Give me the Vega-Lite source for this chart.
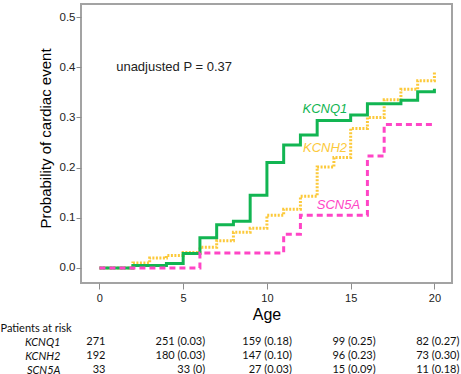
{
  "$schema": "https://vega.github.io/schema/vega-lite/v6.json",
  "padding": {"left": 0, "top": 3, "right": 0, "bottom": 0},
  "background": "white",
  "bounds": "flush",
  "spacing": 52,
  "config": {
    "font": "Liberation Sans",
    "view": {"stroke": "#a3a3a3", "strokeWidth": 2},
    "axis": {"domain": false, "grid": false, "tickColor": "#8c8c8c", "labelColor": "#222222", "titleColor": "#000000", "labelFont": "Liberation Sans", "titleFont": "Liberation Sans", "titleFontWeight": "normal"}
  },
  "datasets": {
    "curves": [
      {"gene": "KCNH2", "age": 0, "p": 0},
      {"gene": "KCNH2", "age": 2, "p": 0.01},
      {"gene": "KCNH2", "age": 3, "p": 0.02},
      {"gene": "KCNH2", "age": 4, "p": 0.025},
      {"gene": "KCNH2", "age": 5, "p": 0.031},
      {"gene": "KCNH2", "age": 6, "p": 0.041},
      {"gene": "KCNH2", "age": 7, "p": 0.054},
      {"gene": "KCNH2", "age": 8, "p": 0.071},
      {"gene": "KCNH2", "age": 9, "p": 0.079},
      {"gene": "KCNH2", "age": 10, "p": 0.105},
      {"gene": "KCNH2", "age": 11, "p": 0.117},
      {"gene": "KCNH2", "age": 12, "p": 0.143},
      {"gene": "KCNH2", "age": 13, "p": 0.201},
      {"gene": "KCNH2", "age": 14, "p": 0.22},
      {"gene": "KCNH2", "age": 15, "p": 0.278},
      {"gene": "KCNH2", "age": 16, "p": 0.3},
      {"gene": "KCNH2", "age": 17, "p": 0.335},
      {"gene": "KCNH2", "age": 18, "p": 0.356},
      {"gene": "KCNH2", "age": 19, "p": 0.373},
      {"gene": "KCNH2", "age": 20, "p": 0.391},
      {"gene": "KCNQ1", "age": 0, "p": 0},
      {"gene": "KCNQ1", "age": 2, "p": 0.005},
      {"gene": "KCNQ1", "age": 4, "p": 0.009},
      {"gene": "KCNQ1", "age": 5, "p": 0.029},
      {"gene": "KCNQ1", "age": 6, "p": 0.06},
      {"gene": "KCNQ1", "age": 7, "p": 0.086},
      {"gene": "KCNQ1", "age": 8, "p": 0.093},
      {"gene": "KCNQ1", "age": 9, "p": 0.145},
      {"gene": "KCNQ1", "age": 10, "p": 0.21},
      {"gene": "KCNQ1", "age": 11, "p": 0.245},
      {"gene": "KCNQ1", "age": 12, "p": 0.265},
      {"gene": "KCNQ1", "age": 13, "p": 0.294},
      {"gene": "KCNQ1", "age": 15, "p": 0.305},
      {"gene": "KCNQ1", "age": 16, "p": 0.327},
      {"gene": "KCNQ1", "age": 18, "p": 0.334},
      {"gene": "KCNQ1", "age": 19, "p": 0.351},
      {"gene": "KCNQ1", "age": 20, "p": 0.357},
      {"gene": "SCN5A", "age": 0, "p": 0},
      {"gene": "SCN5A", "age": 6, "p": 0.03},
      {"gene": "SCN5A", "age": 11, "p": 0.067},
      {"gene": "SCN5A", "age": 12, "p": 0.105},
      {"gene": "SCN5A", "age": 16, "p": 0.223},
      {"gene": "SCN5A", "age": 17, "p": 0.286},
      {"gene": "SCN5A", "age": 20, "p": 0.286}
    ],
    "risk": [
      {"gene": "KCNQ1", "age": 0, "label": "271"},
      {"gene": "KCNQ1", "age": 5, "label": "251 (0.03)"},
      {"gene": "KCNQ1", "age": 10, "label": "159 (0.18)"},
      {"gene": "KCNQ1", "age": 15, "label": "99 (0.25)"},
      {"gene": "KCNQ1", "age": 20, "label": "82 (0.27)"},
      {"gene": "KCNH2", "age": 0, "label": "192"},
      {"gene": "KCNH2", "age": 5, "label": "180 (0.03)"},
      {"gene": "KCNH2", "age": 10, "label": "147 (0.10)"},
      {"gene": "KCNH2", "age": 15, "label": "96 (0.23)"},
      {"gene": "KCNH2", "age": 20, "label": "73 (0.30)"},
      {"gene": "SCN5A", "age": 0, "label": "33"},
      {"gene": "SCN5A", "age": 5, "label": "33 (0)"},
      {"gene": "SCN5A", "age": 10, "label": "27 (0.03)"},
      {"gene": "SCN5A", "age": 15, "label": "15 (0.09)"},
      {"gene": "SCN5A", "age": 20, "label": "11 (0.18)"}
    ]
  },
  "vconcat": [
    {
      "width": 371,
      "height": 279,
      "layer": [
        {
          "data": {"name": "curves"},
          "mark": {"type": "line", "interpolate": "step-after", "strokeWidth": 3},
          "encoding": {
            "x": {"field": "age", "type": "quantitative", "scale": {"domain": [-1.1, 21.05], "nice": false, "zero": false},
              "axis": {"values": [0, 5, 10, 15, 20], "title": "Age", "titleFontSize": 16, "titlePadding": 3, "labelFontSize": 11, "tickSize": 6, "labelPadding": 3}},
            "y": {"field": "p", "type": "quantitative", "scale": {"domain": [-0.03, 0.526], "nice": false, "zero": false},
              "axis": {"values": [0, 0.1, 0.2, 0.3, 0.4, 0.5], "format": ".1f", "title": "Probability of cardiac event", "titleFontSize": 15, "titlePadding": 6, "titleY": 134, "labelFontSize": 11.5, "tickSize": 5, "labelPadding": 1}},
            "color": {"field": "gene", "type": "nominal", "scale": {"domain": ["KCNQ1", "KCNH2", "SCN5A"], "range": ["#12b552", "#fcc93a", "#ff45c6"]}, "legend": null},
            "strokeDash": {"field": "gene", "type": "nominal", "scale": {"domain": ["KCNQ1", "KCNH2", "SCN5A"], "range": [[1, 0], [2, 1.5], [6, 4]]}, "legend": null}
          }
        },
        {
          "data": {"values": [{"note": "unadjusted P = 0.37"}]},
          "mark": {"type": "text", "align": "left", "baseline": "middle", "fontSize": 13, "color": "#222222"},
          "encoding": {
            "x": {"datum": 1, "type": "quantitative", "scale": {"domain": [-1.1, 21.05], "nice": false, "zero": false}},
            "y": {"datum": 0.4, "type": "quantitative", "scale": {"domain": [-0.03, 0.526], "nice": false, "zero": false}},
            "text": {"field": "note", "type": "nominal"}
          }
        },
        {
          "data": {"values": [{"note": "KCNQ1"}]},
          "mark": {"type": "text", "align": "center", "baseline": "middle", "fontSize": 13, "fontStyle": "italic", "color": "#12b552"},
          "encoding": {
            "x": {"datum": 13.46, "type": "quantitative", "scale": {"domain": [-1.1, 21.05], "nice": false, "zero": false}},
            "y": {"datum": 0.317, "type": "quantitative", "scale": {"domain": [-0.03, 0.526], "nice": false, "zero": false}},
            "text": {"field": "note", "type": "nominal"}
          }
        },
        {
          "data": {"values": [{"note": "KCNH2"}]},
          "mark": {"type": "text", "align": "center", "baseline": "middle", "fontSize": 13, "fontStyle": "italic", "color": "#fcc93a"},
          "encoding": {
            "x": {"datum": 13.47, "type": "quantitative", "scale": {"domain": [-1.1, 21.05], "nice": false, "zero": false}},
            "y": {"datum": 0.24, "type": "quantitative", "scale": {"domain": [-0.03, 0.526], "nice": false, "zero": false}},
            "text": {"field": "note", "type": "nominal"}
          }
        },
        {
          "data": {"values": [{"note": "SCN5A"}]},
          "mark": {"type": "text", "align": "center", "baseline": "middle", "fontSize": 13, "fontStyle": "italic", "color": "#ff45c6"},
          "encoding": {
            "x": {"datum": 14.27, "type": "quantitative", "scale": {"domain": [-1.1, 21.05], "nice": false, "zero": false}},
            "y": {"datum": 0.125, "type": "quantitative", "scale": {"domain": [-0.03, 0.526], "nice": false, "zero": false}},
            "text": {"field": "note", "type": "nominal"}
          }
        }
      ]
    },
    {
      "width": 371,
      "height": 42,
      "view": {"stroke": null},
      "data": {"name": "risk"},
      "encoding": {
        "x": {"field": "age", "type": "quantitative", "scale": {"domain": [-1.1, 21.05], "nice": false, "zero": false}, "axis": null},
        "y": {"field": "gene", "type": "nominal", "scale": {"type": "point", "domain": ["KCNQ1", "KCNH2", "SCN5A"], "padding": 0.5},
          "axis": {"title": "Patients at risk", "titleAngle": 0, "titleAlign": "left", "titleBaseline": "middle", "titleX": -81, "titleY": -7, "titleFont": "Lato", "titleFontSize": 11, "titleFontWeight": "normal", "titleColor": "#111111",
            "labelFont": "Lato", "labelFontSize": 11, "labelFontStyle": "italic", "labelColor": "#111111", "labelPadding": 21, "ticks": false, "domain": false, "labelAlign": "right"}},
        "text": {"field": "label", "type": "nominal"}
      },
      "layer": [
        {"transform": [{"filter": "datum.age == 0"}], "mark": {"type": "text", "align": "right", "baseline": "middle", "dx": 6, "font": "Lato", "fontSize": 11, "color": "#111111"}},
        {"transform": [{"filter": "datum.age == 5"}], "mark": {"type": "text", "align": "right", "baseline": "middle", "dx": 22, "font": "Lato", "fontSize": 11, "color": "#111111"}},
        {"transform": [{"filter": "datum.age > 5"}], "mark": {"type": "text", "align": "right", "baseline": "middle", "dx": 25, "font": "Lato", "fontSize": 11, "color": "#111111"}}
      ]
    }
  ]
}
